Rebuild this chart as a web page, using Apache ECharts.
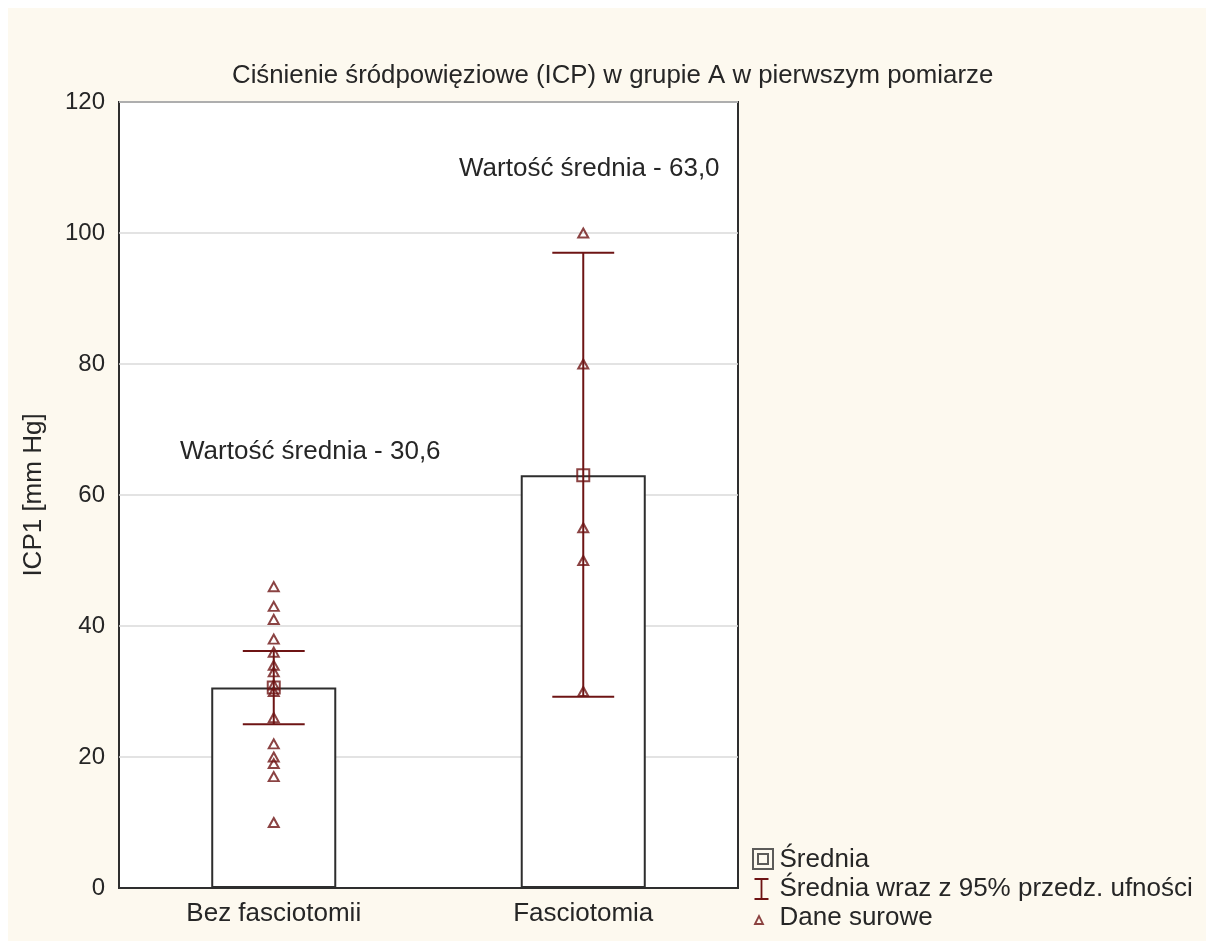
<!DOCTYPE html>
<html>
<head>
<meta charset="utf-8">
<script src="https://cdn.jsdelivr.net/npm/echarts@6/dist/echarts.min.js"></script>
<style>
  html, body { margin: 0; padding: 0; background: #FDF9EF; overflow: hidden; }
  #topstrip { position: absolute; left: 0; top: 0; width: 1206px; height: 8px; background: #ffffff; }
  #leftstrip { position: absolute; left: 0; top: 0; width: 8px; height: 941px; background: #ffffff; }
  #chart { position: absolute; left: 8px; top: 8px; width: 1198px; height: 933px; background: #FDF9EF; }
</style>
</head>
<body>
<div id="topstrip"></div>
<div id="leftstrip"></div>
<div id="chart"></div>
<script>
// ---- data ----
const categories = ['Bez fasciotomii', 'Fasciotomia'];
const means = [30.6, 63.0];
const ciLow = [25.0, 29.2];
const ciHigh = [36.2, 97.0];
const rawBez = [46, 43, 41, 38, 36, 34, 33, 31, 30, 26, 22, 20, 19, 17, 10];
const rawFas = [100, 80, 55, 50, 30];
const meanLabels = ['Wartość średnia - 30,6', 'Wartość średnia - 63,0'];
const yMin = 0, yMax = 120, yStep = 20;

const DARK_RED = '#6E1414';
const FRAME = '#2E2E2E';
const TEXT = '#262626';
const FONT = '"Liberation Sans", Arial, sans-serif';

const rawPoints = [];
rawBez.forEach(v => rawPoints.push([0, v]));
rawFas.forEach(v => rawPoints.push([1, v]));

const chart = echarts.init(document.getElementById('chart'));

const option = {
  animation: false,
  backgroundColor: '#FDF9EF',
  textStyle: { fontFamily: FONT },
  title: {
    text: 'Ciśnienie śródpowięziowe (ICP) w grupie A w pierwszym pomiarze',
    left: 224, top: 55, padding: 0,
    textStyle: { fontFamily: FONT, fontSize: 25.8, fontWeight: 'normal', color: TEXT }
  },
  grid: {
    left: 111, top: 94, width: 619, height: 786,
    show: true, backgroundColor: '#ffffff', borderColor: FRAME, borderWidth: 2
  },
  xAxis: {
    type: 'category',
    data: categories,
    axisLine: { show: true, lineStyle: { color: FRAME, width: 2 } },
    axisTick: { show: true, inside: true, alignWithLabel: true, length: 5, lineStyle: { color: FRAME, width: 1.5 } },
    axisLabel: { fontFamily: FONT, fontSize: 26, color: TEXT, margin: 13 },
    splitLine: { show: false }
  },
  yAxis: {
    type: 'value',
    min: yMin, max: yMax, interval: yStep,
    name: 'ICP1 [mm Hg]',
    nameLocation: 'middle',
    nameRotate: 90,
    nameGap: 72,
    nameTextStyle: { fontFamily: FONT, fontSize: 26, color: TEXT },
    axisLine: { show: false },
    axisTick: { show: false },
    axisLabel: { fontFamily: FONT, fontSize: 24, color: TEXT, margin: 14 },
    splitLine: { show: true, lineStyle: { color: '#DADADA', width: 1.5 } }
  },
  legend: {
    orient: 'vertical',
    left: 739, top: 834,
    itemWidth: 22, itemHeight: 22, itemGap: 3,
    textStyle: { fontFamily: FONT, fontSize: 26, color: TEXT, lineHeight: 24 },
    selectedMode: false,
    data: [
      { name: 'Średnia',
        icon: 'path://M0,0H20V20H0ZM5,5H15V15H5ZM21,0M21,22',
        itemStyle: { color: 'transparent', borderColor: '#333', borderWidth: 2 } },
      { name: 'Średnia wraz z 95% przedz. ufności',
        icon: 'path://M3,1H17M10,1V21M3,21H17M21,0M21,22',
        itemStyle: { color: 'transparent', borderColor: DARK_RED, borderWidth: 1.8 } },
      { name: 'Dane surowe',
        icon: 'path://M4,17L8,9L12,17ZM21,0M21,22',
        itemStyle: { color: 'transparent', borderColor: DARK_RED, borderWidth: 1.8 } }
    ]
  },
  graphic: [
    { type: 'text', left: 172, top: 431, z: 100,
      style: { text: meanLabels[0], font: '26px ' + FONT, fill: TEXT } },
    { type: 'text', left: 451, top: 148, z: 100,
      style: { text: meanLabels[1], font: '26px ' + FONT, fill: TEXT } }
  ],
  series: [
    {
      name: 'bars',
      type: 'bar',
      data: means,
      barWidth: '40.4%',
      itemStyle: { color: '#ffffff', borderColor: FRAME, borderWidth: 2 },
      emphasis: { disabled: true },
      z: 2
    },
    {
      name: 'Średnia wraz z 95% przedz. ufności',
      type: 'custom',
      data: categories.map((c, i) => [i, ciLow[i], ciHigh[i]]),
      renderItem: function (params, api) {
        const x = api.value(0);
        const lo = api.coord([x, api.value(1)]);
        const hi = api.coord([x, api.value(2)]);
        const half = api.size([1, 0])[0] * 0.1;
        const st = { stroke: DARK_RED, lineWidth: 2, fill: null };
        return {
          type: 'group',
          children: [
            { type: 'line', shape: { x1: lo[0], y1: lo[1], x2: hi[0], y2: hi[1] }, style: st },
            { type: 'line', shape: { x1: hi[0] - half, y1: hi[1], x2: hi[0] + half, y2: hi[1] }, style: st },
            { type: 'line', shape: { x1: lo[0] - half, y1: lo[1], x2: lo[0] + half, y2: lo[1] }, style: st }
          ]
        };
      },
      itemStyle: { color: DARK_RED },
      z: 3
    },
    {
      name: 'Średnia',
      type: 'scatter',
      data: means.map((m, i) => [i, m]),
      symbol: 'rect',
      symbolSize: 12,
      itemStyle: { color: 'transparent', borderColor: DARK_RED, borderWidth: 2 },
      emphasis: { disabled: true },
      z: 4
    },
    {
      name: 'Dane surowe',
      type: 'scatter',
      data: rawPoints,
      symbol: 'triangle',
      symbolSize: [10, 9],
      itemStyle: { color: 'transparent', borderColor: DARK_RED, borderWidth: 2 },
      emphasis: { disabled: true },
      z: 5
    }
  ]
};

chart.setOption(option);
</script>
</body>
</html>
